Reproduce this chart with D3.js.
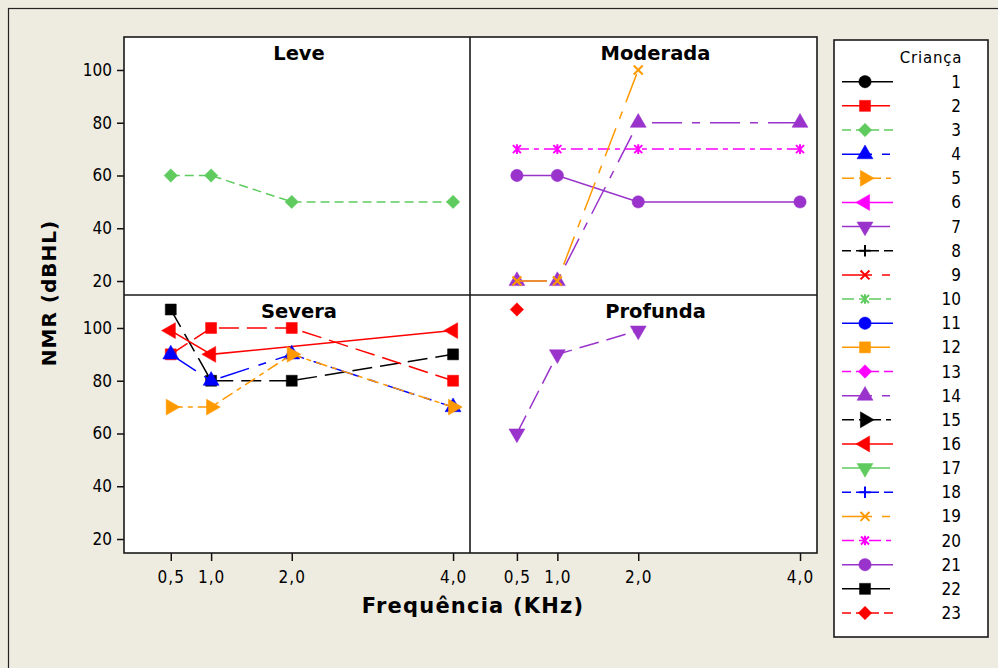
<!DOCTYPE html>
<html>
<head>
<meta charset="utf-8">
<script src="https://cdn.jsdelivr.net/npm/d3@7"></script>
<style>
  body { margin: 0; background: #eeebe1; }
  svg { display: block; }
  text { font-family: "DejaVu Sans", sans-serif; fill: #000; }
  .cond { font-family: "DejaVu Sans Condensed", "DejaVu Sans", sans-serif; font-stretch: condensed; }
</style>
</head>
<body>
<svg id="thesvg" width="998" height="668"></svg>
<script>
'use strict';

// axis values / labels
let freqs = [0.5, 1, 2, 4],
    freqLabels = ["0,5", "1,0", "2,0", "4,0"],
    yTicks = [20, 40, 60, 80, 100],
    panelNames = ["Leve", "Moderada", "Severa", "Profunda"],
    children = d3.range(1, 24);

// NMR (dBHL) per child at 0.5 / 1 / 2 / 4 KHz, null = no reading
let leve3  = [60, 60, 50, 50],
    mod21  = [60, 60, 50, 50],
    mod20  = [70, 70, 70, 70],
    mod14  = [20, 20, 80, 80],
    mod19  = [20, 20, 100, null],
    sev22  = [107, 80, 80, 90],
    sev2   = [90, 100, 100, 80],
    sev16  = [99, 90, null, 99],
    sev4   = [90, 80, 90, 70],
    sev5   = [70, 70, 90, 70],
    prof23 = [107, null, null, null],
    prof7  = [60, 90, 99, null];

// which panel each child goes in (drawing order)
let series = [
  {child: 3,  panel: 0, vals: leve3},
  {child: 21, panel: 1, vals: mod21},
  {child: 20, panel: 1, vals: mod20},
  {child: 14, panel: 1, vals: mod14},
  {child: 19, panel: 1, vals: mod19},
  {child: 22, panel: 2, vals: sev22},
  {child: 2,  panel: 2, vals: sev2},
  {child: 16, panel: 2, vals: sev16},
  {child: 4,  panel: 2, vals: sev4},
  {child: 5,  panel: 2, vals: sev5},
  {child: 23, panel: 3, vals: prof23},
  {child: 7,  panel: 3, vals: prof7}
];

// minitab-like style cycles
let colors = ["#000000", "#ff0000", "#5fcb5f", "#0000ff", "#ff9900", "#ff00ff", "#9933cc"],
    dashes = [null, "20,8", "9,5", "30,10,8,10", "12,5,5,5"],
    shapes = ["circle", "square", "diamond", "up", "right", "left", "down", "plus", "x", "asterisk"];

function colorOf(c) { return colors[(c - 1) % 7]; }
function dashOf(c)  { return dashes[(c - 1) % 5]; }
function shapeOf(c) { return shapes[(c - 1) % 10]; }

// stroke-only symbols
var plusType = {draw: function(ctx, s) {
  var r = Math.sqrt(s) / 2;
  ctx.moveTo(-r, 0); ctx.lineTo(r, 0); ctx.moveTo(0, -r); ctx.lineTo(0, r);
}};
var xType = {draw: function(ctx, s) {
  var r = Math.sqrt(s) / 2;
  ctx.moveTo(-r, -r); ctx.lineTo(r, r); ctx.moveTo(-r, r); ctx.lineTo(r, -r);
}};
var starType = {draw: function(ctx, s) {
  var r = Math.sqrt(s) / 2;
  ctx.moveTo(-r, -r); ctx.lineTo(r, r); ctx.moveTo(-r, r); ctx.lineTo(r, -r);
  ctx.moveTo(0, -r * 1.2); ctx.lineTo(0, r * 1.2);
}};

function addMarker(g, child, cx, cy) {
  var sh = shapeOf(child), col = colorOf(child),
      type = d3.symbolCircle, size = 120, rot = 0, stroked = false;
  if (sh === "square")  { type = d3.symbolSquare; size = 121; }
  if (sh === "diamond") { type = d3.symbolSquare; size = 90; rot = 45; }
  if (sh === "up")      { type = d3.symbolTriangle; size = 110; }
  if (sh === "right")   { type = d3.symbolTriangle; size = 110; rot = 90; }
  if (sh === "left")    { type = d3.symbolTriangle; size = 110; rot = -90; }
  if (sh === "down")    { type = d3.symbolTriangle; size = 110; rot = 180; }
  if (sh === "plus")    { type = plusType; size = 130; stroked = true; }
  if (sh === "x")       { type = xType; size = 80; stroked = true; }
  if (sh === "asterisk"){ type = starType; size = 64; stroked = true; }
  g.append("path")
      .attr("d", d3.symbol().type(type).size(size)())
      .attr("transform", "translate(" + cx + "," + cy + ") rotate(" + rot + ")")
      .attr("fill", stroked ? "none" : col)
      .attr("stroke", col)
      .attr("stroke-width", stroked ? 2 : 0.5);
}

var svg = d3.select("#thesvg"),
    plot = {left: 124, top: 37, right: 817, bottom: 553},
    midX = 470, midY = 295,
    panelX = [[plot.left, midX], [midX, plot.right]],
    panelY = [[plot.top, midY], [midY, plot.bottom]];

// outer frame (only top/left edges fall inside the window)
svg.append("rect")
    .attr("x", 8.5).attr("y", 8.5)
    .attr("width", 1000).attr("height", 700)
    .attr("fill", "#eeebe1")
    .attr("stroke", "#222").attr("stroke-width", 1.2);

svg.append("rect")
    .attr("x", plot.left).attr("y", plot.top)
    .attr("width", plot.right - plot.left).attr("height", plot.bottom - plot.top)
    .attr("fill", "#fff");

var xs = panelX.map(function(r) { return d3.scaleLinear().domain([-0.08, 4.21]).range(r); }),
    ys = panelY.map(function(r) { return d3.scaleLinear().domain([14.7, 112.5]).range([r[1], r[0]]); });

// y axes on the left column
ys.forEach(function(y) {
  svg.append("g")
      .attr("class", "axis cond")
      .attr("transform", "translate(" + plot.left + ",0)")
      .call(d3.axisLeft(y).tickValues(yTicks).tickSize(7).tickPadding(5));
});

// x axes under the bottom row
xs.forEach(function(x) {
  svg.append("g")
      .attr("class", "axis cond")
      .attr("transform", "translate(0," + plot.bottom + ")")
      .call(d3.axisBottom(x).tickValues(freqs).tickSize(8).tickPadding(10)
              .tickFormat(function(d, i) { return freqLabels[i]; }));
});

svg.selectAll(".axis .domain").remove();
svg.selectAll(".axis line").attr("stroke", "#111").attr("stroke-width", 1.5);
svg.selectAll(".axis text")
    .attr("fill", "#111")
    .style("font-size", "17px");
svg.selectAll(".axis text").filter(function() {
  return freqLabels.indexOf(this.textContent) >= 0;
}).style("letter-spacing", "1px");

// panel lines and markers
var line = d3.line()
    .x(function(d) { return d.x; })
    .y(function(d) { return d.y; });

series.forEach(function(s) {
  var col = s.panel % 2, row = Math.floor(s.panel / 2),
      x = xs[col], y = ys[row];
  var pts = [];
  s.vals.forEach(function(v, i) {
    if (v !== null) pts.push({x: x(freqs[i]), y: y(v)});
  });
  var g = svg.append("g").attr("class", "series");
  if (pts.length > 1) {
    g.append("path")
        .attr("d", line(pts))
        .attr("fill", "none")
        .attr("stroke", colorOf(s.child))
        .attr("stroke-width", 1.5)
        .attr("stroke-dasharray", dashOf(s.child));
  }
  pts.forEach(function(p) { addMarker(g, s.child, p.x, p.y); });
});

// panel frame
svg.append("rect")
    .attr("x", plot.left).attr("y", plot.top)
    .attr("width", plot.right - plot.left).attr("height", plot.bottom - plot.top)
    .attr("fill", "none").attr("stroke", "#1a1a1a").attr("stroke-width", 1.6);
svg.append("line")
    .attr("x1", midX).attr("x2", midX).attr("y1", plot.top).attr("y2", plot.bottom)
    .attr("stroke", "#1a1a1a").attr("stroke-width", 1.6);
svg.append("line")
    .attr("x1", plot.left).attr("x2", plot.right).attr("y1", midY).attr("y2", midY)
    .attr("stroke", "#1a1a1a").attr("stroke-width", 1.6);

// panel titles
var titleDx = [2, 12];
panelNames.forEach(function(name, i) {
  var col = i % 2, row = Math.floor(i / 2);
  svg.append("text")
      .attr("x", (panelX[col][0] + panelX[col][1]) / 2 + titleDx[col])
      .attr("y", panelY[row][0] + 23)
      .attr("text-anchor", "middle")
      .style("font-size", "19.5px")
      .style("font-weight", "bold")
      .text(name);
});

// axis titles
svg.append("text")
    .attr("x", 473).attr("y", 613)
    .attr("text-anchor", "middle")
    .style("font-size", "21px").style("font-weight", "bold")
    .style("letter-spacing", "1.2px")
    .text("Frequência (KHz)");

svg.append("text")
    .attr("transform", "translate(56,293) rotate(-90)")
    .attr("text-anchor", "middle")
    .style("font-size", "20px").style("font-weight", "bold")
    .style("letter-spacing", "1px")
    .text("NMR  (dBHL)");

// legend
var lg = svg.append("g").attr("class", "legend");
lg.append("rect")
    .attr("x", 834).attr("y", 40).attr("width", 154).attr("height", 597)
    .attr("fill", "#fff").attr("stroke", "#1a1a1a").attr("stroke-width", 1.6);
lg.append("text")
    .attr("x", 931).attr("y", 63)
    .attr("text-anchor", "middle")
    .style("font-size", "15px").style("letter-spacing", "0.8px")
    .text("Criança");

var ly = d3.scaleLinear().domain([1, 23]).range([81.7, 613]);
children.forEach(function(c) {
  var yy = ly(c);
  lg.append("line")
      .attr("x1", 842).attr("x2", 893).attr("y1", yy).attr("y2", yy)
      .attr("stroke", colorOf(c)).attr("stroke-width", 1.5)
      .attr("stroke-dasharray", dashOf(c));
  addMarker(lg, c, 865, yy);
  lg.append("text")
      .attr("class", "cond")
      .attr("x", 961).attr("y", yy + 6)
      .attr("text-anchor", "end")
      .style("font-size", "17px")
      .text(c);
});
</script>
</body>
</html>
